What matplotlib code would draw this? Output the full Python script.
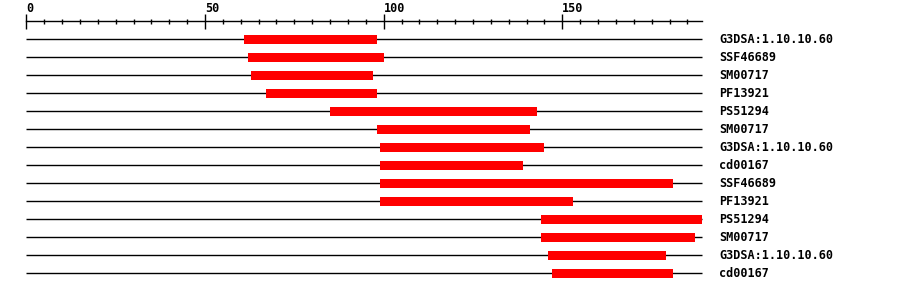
import matplotlib.pyplot as plt
from matplotlib.ticker import MultipleLocator

# protein length and domain hits
seq_len = 189
names = ['G3DSA:1.10.10.60', 'SSF46689', 'SM00717', 'PF13921', 'PS51294',
         'SM00717', 'G3DSA:1.10.10.60', 'cd00167', 'SSF46689', 'PF13921',
         'PS51294', 'SM00717', 'G3DSA:1.10.10.60', 'cd00167']
starts = [61, 62, 63, 67, 85, 98, 99, 99, 99, 99, 144, 144, 146, 147]
ends = [98, 100, 97, 98, 143, 141, 145, 139, 181, 153, 189, 187, 179, 181]

W, H = 900, 292
fig = plt.figure(figsize=(W / 100, H / 100), dpi=100)
x0, x1 = 26.3, 701.7
top = 21.3
row_h = 18
n_rows = len(names) + 1
ax = fig.add_axes([x0 / W, 1 - (top + n_rows * row_h) / H,
                   (x1 - x0) / W, n_rows * row_h / H])
ax.set_xlim(0, seq_len)
ax.set_ylim(n_rows, 0)

font = dict(family='DejaVu Sans Mono', weight='bold', size=8.5)

for i, name in enumerate(names):
    y = i + 1
    ax.plot([0, seq_len], [y, y], color='black', lw=1.0, solid_capstyle='butt',
            clip_on=False, zorder=1)
    ax.barh(y, ends[i] - starts[i], left=starts[i], height=0.5,
            color='#ff0000', zorder=2)
    ax.annotate(name, xy=(1.0, y), xycoords=('axes fraction', 'data'),
                xytext=(12.7, 0), textcoords='offset points',
                va='center', ha='left', **font)

# ruler on top
for side in ['left', 'right', 'bottom']:
    ax.spines[side].set_visible(False)
ax.spines['top'].set_linewidth(1.0)
ax.yaxis.set_visible(False)
ax.xaxis.set_ticks_position('top')
ax.xaxis.set_major_locator(MultipleLocator(50))
ax.xaxis.set_minor_locator(MultipleLocator(5))
ax.tick_params(axis='x', which='major', direction='inout', length=10.8,
               width=1.0, pad=-1.0)
ax.tick_params(axis='x', which='minor', direction='inout', length=3.6,
               width=1.0)
ax.set_xticks([0, 50, 100, 150])
ax.set_xticklabels(['0', '50', '100', '150'], **font)
for lbl in ax.get_xticklabels():
    lbl.set_horizontalalignment('left')

fig.savefig('out.png', dpi=100)
